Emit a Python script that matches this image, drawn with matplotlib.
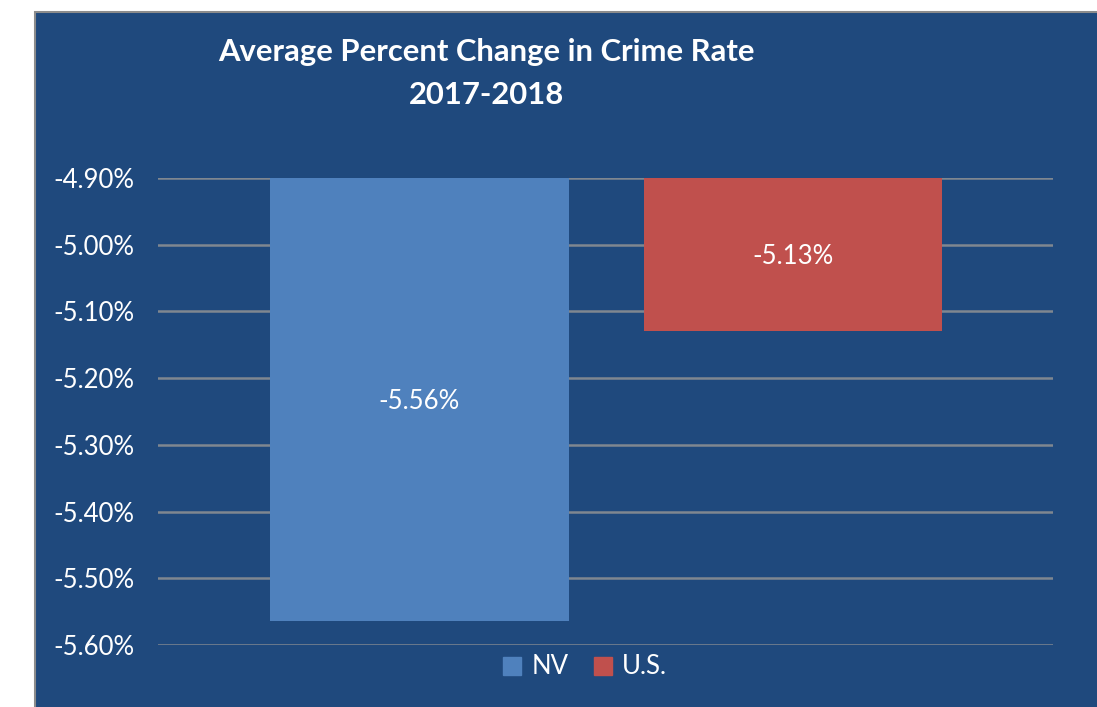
import matplotlib
matplotlib.use("Agg")
import matplotlib.pyplot as plt
from matplotlib.patches import Rectangle, Patch
from matplotlib.ticker import FuncFormatter

categories = ["NV", "U.S."]
values = [-5.564, -5.129]
labels = ["-5.56%", "-5.13%"]
colors = ["#4F81BD", "#C0504D"]
yticks = [-4.9, -5.0, -5.1, -5.2, -5.3, -5.4, -5.5, -5.6]

bg = "#1F497D"
plt.rcParams["font.family"] = ["Lato", "DejaVu Sans"]

fig = plt.figure(figsize=(10.97, 7.07), dpi=100)
fig.patch.set_facecolor("white")
fig.patches.append(Rectangle((35 / 1097, -0.1), 1.2, 1.1 - 12 / 707, transform=fig.transFigure,
                             facecolor=bg, edgecolor="#8C8C8C", linewidth=1.5, zorder=-5))

ax = fig.add_axes([158 / 1097, 1 - 645 / 707, (1053 - 158) / 1097, (645 - 178) / 707])
ax.set_facecolor("none")

top = -4.9
x = [0, 1]
bars = ax.bar(x, [v - top for v in values], bottom=top, width=0.8, color=colors, zorder=3)
for xi, v, lab in zip(x, values, labels):
    ax.text(xi, (v + top) / 2, lab, ha="center", va="center_baseline", color="white",
            fontsize=18.5, zorder=4)

ax.set_xlim(-0.70, 1.696)
ax.set_ylim(-5.6, -4.9)
ax.set_yticks(yticks)
ax.yaxis.set_major_formatter(FuncFormatter(lambda v, p: f"{v:.2f}%"))
ax.tick_params(axis="y", length=0, pad=16.8, labelsize=18.5, labelcolor="white")
ax.set_xticks([])
ax.grid(axis="y", color="#7F8790", linewidth=1.8, zorder=1)
for s in ax.spines.values():
    s.set_visible(False)

fig.text(486 / 1097, 1 - 52 / 707, "Average Percent Change in Crime Rate", ha="center", va="center",
         color="white", fontsize=22.3, fontweight="bold")
fig.text(486 / 1097, 1 - 95 / 707, "2017-2018", ha="center", va="center",
         color="white", fontsize=22.3, fontweight="bold")

handles = [Patch(color=c, label=n) for c, n in zip(colors, categories)]
fig.legend(handles=handles, loc="center", bbox_to_anchor=(585 / 1097, 1 - 667 / 707), ncol=2,
           frameon=False, fontsize=18.5, labelcolor="white", handlelength=0.7, handleheight=0.7,
           handletextpad=0.4, columnspacing=1.0)

fig.savefig("out.png", dpi=100, facecolor=fig.get_facecolor())
